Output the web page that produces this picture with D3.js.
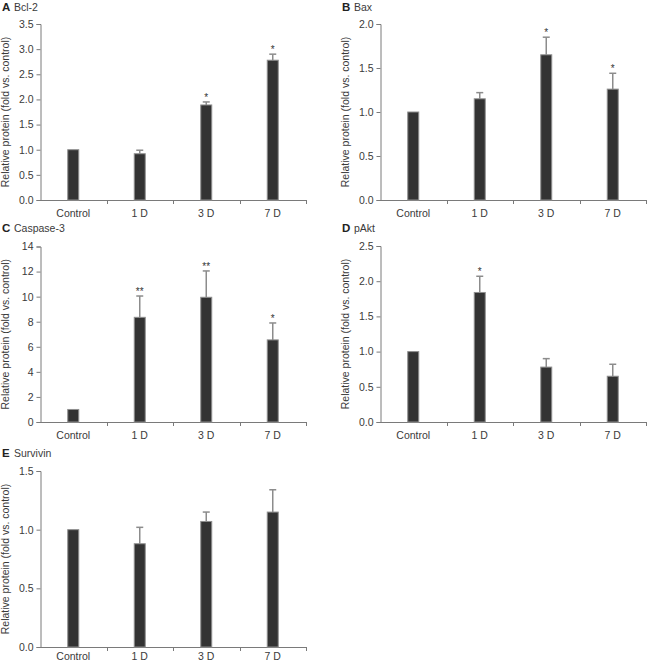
<!DOCTYPE html>
<html><head><meta charset="utf-8">
<script src="https://cdn.jsdelivr.net/npm/d3@7"></script>
<style>
body{margin:0;background:#fff;}
svg{display:block;font-family:"Liberation Sans",Arial,sans-serif;}
</style></head><body>
<svg id="chart" width="647" height="662"></svg>
<script>
const categories = ["Control", "1 D", "3 D", "7 D"];

const bcl2Values = [1.0, 0.92, 1.89, 2.78];
const bcl2Errors = [0, 0.07, 0.06, 0.12];
const bcl2Sig = ["", "", "*", "*"];
const bcl2Ticks = [0, 0.5, 1.0, 1.5, 2.0, 2.5, 3.0, 3.5];

const baxValues = [1.0, 1.15, 1.65, 1.26];
const baxErrors = [0, 0.07, 0.2, 0.18];
const baxSig = ["", "", "*", "*"];
const baxTicks = [0, 0.5, 1.0, 1.5, 2.0];

const caspValues = [1.0, 8.35, 9.95, 6.55];
const caspErrors = [0, 1.7, 2.1, 1.35];
const caspSig = ["", "**", "**", "*"];
const caspTicks = [0, 2, 4, 6, 8, 10, 12, 14];

const paktValues = [1.0, 1.84, 0.78, 0.65];
const paktErrors = [0, 0.23, 0.12, 0.17];
const paktSig = ["", "*", "", ""];
const paktTicks = [0, 0.5, 1.0, 1.5, 2.0, 2.5];

const survValues = [1.0, 0.88, 1.07, 1.15];
const survErrors = [0, 0.14, 0.08, 0.19];
const survSig = ["", "", "", ""];
const survTicks = [0, 0.5, 1.0, 1.5];

const panels = [
  {letter:"A", name:"Bcl-2", values:bcl2Values, errors:bcl2Errors, sig:bcl2Sig, ticks:bcl2Ticks, fmt:".1f", x0:40, top:24, bottom:200, titleY:11, pad:9},
  {letter:"B", name:"Bax", values:baxValues, errors:baxErrors, sig:baxSig, ticks:baxTicks, fmt:".1f", x0:380, top:24, bottom:200, titleY:11, pad:9},
  {letter:"C", name:"Caspase-3", values:caspValues, errors:caspErrors, sig:caspSig, ticks:caspTicks, fmt:"d", x0:40, top:246.5, bottom:422, titleY:232, pad:9},
  {letter:"D", name:"pAkt", values:paktValues, errors:paktErrors, sig:paktSig, ticks:paktTicks, fmt:".1f", x0:380, top:246, bottom:422, titleY:232, pad:9},
  {letter:"E", name:"Survivin", values:survValues, errors:survErrors, sig:survSig, ticks:survTicks, fmt:".1f", x0:40, top:471, bottom:647, titleY:457, pad:5}
];

const svg = d3.select("#chart");
const plotW = 266;
const barW = 12;
const axisColor = "#7a7a7a";
const textColor = "#3a3a3a";
const fs = "10.5px";

panels.forEach(p => {
  const g = svg.append("g");
  const x = d3.scaleBand().domain(categories).range([p.x0, p.x0 + plotW]).padding(0);
  const y = d3.scaleLinear().domain([0, p.ticks[p.ticks.length - 1]]).range([p.bottom, p.top]);

  const tx = p.x0 - 38;
  g.append("text").attr("x", tx).attr("y", p.titleY).attr("font-size", "11.5px").attr("font-weight", "bold")
    .attr("fill", "#222").text(p.letter);
  g.append("text").attr("x", tx + 12).attr("y", p.titleY).attr("font-size", fs).attr("fill", textColor).text(p.name);

  g.append("text")
    .attr("transform", `translate(${p.x0 - 31},${(p.top + p.bottom) / 2}) rotate(-90)`)
    .attr("text-anchor", "middle").attr("font-size", fs).attr("fill", textColor)
    .text("Relative protein (fold vs. control)");

  const yAxis = d3.axisLeft(y).tickValues(p.ticks).tickFormat(d3.format(p.fmt)).tickSize(4).tickPadding(3);
  const ya = g.append("g").attr("transform", `translate(${p.x0 + 0.5},0)`).call(yAxis);
  ya.select(".domain").attr("stroke", axisColor);
  ya.selectAll(".tick line").attr("stroke", axisColor);
  ya.selectAll(".tick text").attr("fill", textColor).attr("font-size", fs).attr("font-family", "Liberation Sans, Arial, sans-serif");

  const xAxis = d3.axisBottom(x).tickSize(0).tickPadding(p.pad);
  const xa = g.append("g").attr("transform", `translate(0,${p.bottom + 0.5})`).call(xAxis);
  xa.select(".domain").remove();
  xa.selectAll(".tick text").attr("fill", textColor).attr("font-size", fs).attr("font-family", "Liberation Sans, Arial, sans-serif");
  g.append("line").attr("x1", p.x0).attr("x2", p.x0 + plotW).attr("y1", p.bottom + 0.5).attr("y2", p.bottom + 0.5)
    .attr("stroke", axisColor);
  const bounds = categories.slice(1).map(c => x(c)).concat([x(categories[categories.length - 1]) + x.bandwidth()]);
  g.selectAll(".xb").data(bounds).enter().append("line")
    .attr("x1", d => Math.round(d) + 0.5).attr("x2", d => Math.round(d) + 0.5)
    .attr("y1", p.bottom).attr("y2", p.bottom + 4).attr("stroke", axisColor);

  const cx = c => x(c) + x.bandwidth() / 2;

  categories.forEach((c, i) => {
    const e = p.errors[i];
    if (e > 0) {
      const yt = y(p.values[i] + e);
      g.append("line").attr("x1", cx(c)).attr("x2", cx(c)).attr("y1", y(p.values[i])).attr("y2", yt)
        .attr("stroke", "#8c8c8c").attr("stroke-width", 1.5);
      g.append("line").attr("x1", cx(c) - 3.5).attr("x2", cx(c) + 3.5).attr("y1", yt).attr("y2", yt)
        .attr("stroke", "#8c8c8c").attr("stroke-width", 1.5);
    }
  });

  g.selectAll(".bar").data(categories).enter().append("rect")
    .attr("x", c => cx(c) - barW / 2 + 0.5)
    .attr("y", (c, i) => y(p.values[i]))
    .attr("width", barW - 1)
    .attr("height", (c, i) => p.bottom - y(p.values[i]))
    .attr("fill", "#333333").attr("stroke", "#8f8f8f").attr("stroke-width", 1);

  categories.forEach((c, i) => {
    if (p.sig[i]) {
      g.append("text").attr("x", cx(c)).attr("y", y(p.values[i] + p.errors[i]) - 1)
        .attr("text-anchor", "middle").attr("font-size", "10px").attr("fill", "#333").text(p.sig[i]);
    }
  });
});
</script>
</body></html>
